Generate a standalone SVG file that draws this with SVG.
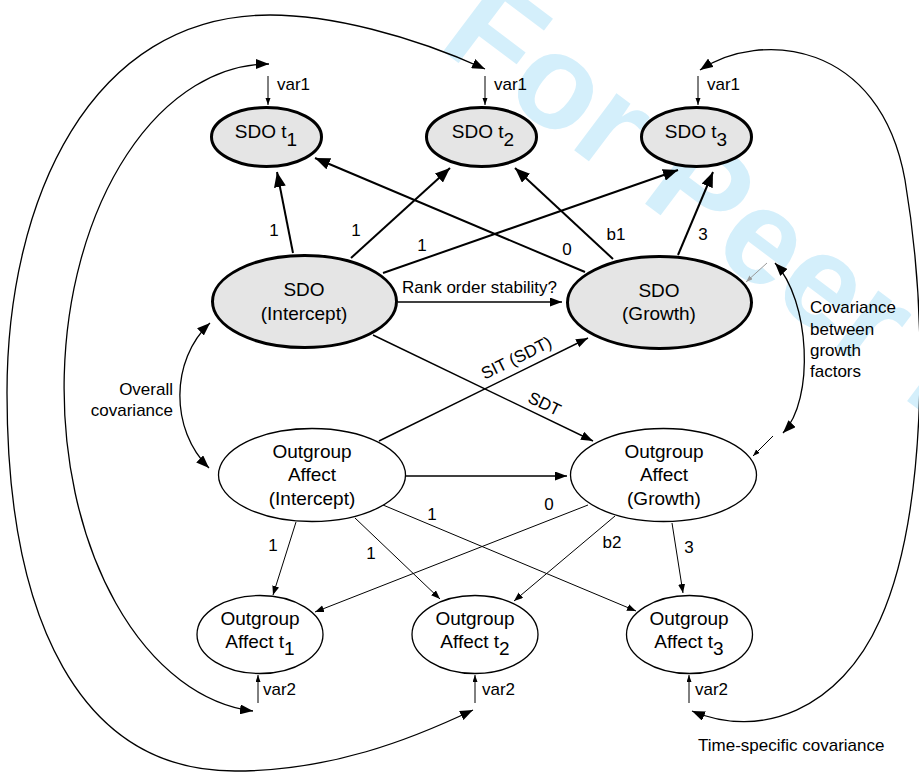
<svg xmlns="http://www.w3.org/2000/svg" width="919" height="776" viewBox="0 0 919 776">
<style>
text{font-family:"Liberation Sans",Arial,Helvetica,sans-serif;fill:#000}
.nt{font-size:19px;text-anchor:middle}
.lb{font-size:17px}
.lc{font-size:17px;text-anchor:middle}
.gray{fill:#e5e5e5;stroke:#000;stroke-width:3}
.white{fill:#fff;stroke:#000;stroke-width:1.3}
.thick{stroke:#000;stroke-width:2;fill:none;marker-end:url(#ah)}
.med{stroke:#000;stroke-width:1.4;fill:none;marker-end:url(#am)}
.thin{stroke:#000;stroke-width:1;fill:none;marker-end:url(#as)}
.var{stroke:#000;stroke-width:1;fill:none;marker-end:url(#av)}
.cov{stroke:#000;stroke-width:1.3;fill:none;marker-start:url(#ac);marker-end:url(#ac)}
.wm{font-family:"Liberation Sans",Arial,sans-serif;font-size:134px;font-weight:bold;fill:#d4effb}
</style>
<defs>
<marker id="ah" markerUnits="userSpaceOnUse" markerWidth="16" markerHeight="12" refX="15" refY="6" orient="auto"><path d="M0,0 L15,6 L0,12 z" fill="#000"/></marker>
<marker id="am" markerUnits="userSpaceOnUse" markerWidth="13" markerHeight="10" refX="12" refY="4.5" orient="auto"><path d="M0,0 L12,4.5 L0,9 z" fill="#000"/></marker>
<marker id="as" markerUnits="userSpaceOnUse" markerWidth="10" markerHeight="8" refX="9" refY="3.5" orient="auto"><path d="M0,0 L9,3.5 L0,7 z" fill="#000"/></marker>
<marker id="av" markerUnits="userSpaceOnUse" markerWidth="8" markerHeight="6" refX="7" refY="2.5" orient="auto"><path d="M0,0 L7,2.5 L0,5 z" fill="#000"/></marker>
<marker id="ag" markerUnits="userSpaceOnUse" markerWidth="8" markerHeight="6" refX="7" refY="2.5" orient="auto"><path d="M0,0 L7,2.5 L0,5 z" fill="#999"/></marker>
<marker id="ac" markerUnits="userSpaceOnUse" markerWidth="14" markerHeight="10" refX="13" refY="5" orient="auto-start-reverse"><path d="M0,0 L13,5 L0,10 z" fill="#000"/></marker>
</defs>

<text class="wm" transform="translate(436,46) rotate(37)">For Peer Review</text>

<g id="connectors">
<line class="thick" x1="293" y1="253" x2="277" y2="172"/>
<line class="thick" x1="351" y1="258" x2="450" y2="168"/>
<line class="thick" x1="383" y1="273" x2="678" y2="170"/>
<line class="thick" x1="585" y1="272" x2="315" y2="158"/>
<line class="thick" x1="613" y1="259" x2="515" y2="168"/>
<line class="thick" x1="678" y1="255" x2="713" y2="172"/>
<line class="med" x1="398" y1="302" x2="562" y2="302"/>
<line class="med" x1="379" y1="441" x2="588" y2="338"/>
<line class="med" x1="373" y1="335" x2="593" y2="441"/>
<line class="med" x1="406" y1="476" x2="567" y2="476"/>
<line class="thin" x1="296" y1="522" x2="273" y2="595"/>
<line class="thin" x1="355" y1="518" x2="440" y2="599"/>
<line class="thin" x1="383" y1="505" x2="636" y2="611"/>
<line class="thin" x1="588" y1="505" x2="315" y2="612"/>
<line class="thin" x1="615" y1="516" x2="514" y2="601"/>
<line class="thin" x1="672" y1="523" x2="683" y2="593"/>
<line class="var" x1="268" y1="76" x2="268" y2="105"/>
<line class="var" x1="485" y1="76" x2="485" y2="105"/>
<line class="var" x1="698" y1="76" x2="698" y2="105"/>
<line class="var" x1="258" y1="703" x2="258" y2="675"/>
<line class="var" x1="475" y1="703" x2="475" y2="675"/>
<line class="var" x1="689" y1="703" x2="689" y2="675"/>
<line x1="767" y1="263" x2="746" y2="282" stroke="#999" stroke-width="1" marker-end="url(#ag)"/>
<line class="var" x1="773" y1="436" x2="753" y2="456"/>
<path class="cov" d="M 210,323 C 170,360 170,430 209,468"/>
<path class="cov" d="M 775,263 C 810,300 815,400 783,433"/>
<path class="cov" d="M 269,64 A 205,324 0 0 0 253,711"/>
<path class="cov" d="M 485,69 C 410,35 330,15 270,15 C 90,15 7,200 7,393 C 7,620 80,771 235,771 C 330,771 410,740 473,710"/>
<path class="cov" d="M 700,70 C 760,30 880,40 905,180 C 930,330 925,520 880,620 C 840,710 760,740 692,711"/>
</g>

<g id="labels">
<text class="lc" x="274" y="236">1</text>
<text class="lc" x="356" y="236">1</text>
<text class="lc" x="422" y="251">1</text>
<text class="lc" x="567" y="255">0</text>
<text class="lc" x="616" y="240">b1</text>
<text class="lc" x="703" y="240">3</text>
<text class="lb" x="402" y="293">Rank order stability?</text>
<text class="lc" transform="translate(519,363) rotate(-26.2)">SIT (SDT)</text>
<text class="lc" transform="translate(542,409) rotate(25.7)">SDT</text>
<text class="lc" x="273" y="551">1</text>
<text class="lc" x="371" y="559">1</text>
<text class="lc" x="432" y="520">1</text>
<text class="lc" x="549" y="510">0</text>
<text class="lc" x="612" y="548">b2</text>
<text class="lc" x="689" y="553">3</text>
<text class="lb" x="173" y="395" text-anchor="end">Overall</text>
<text class="lb" x="173" y="416" text-anchor="end">covariance</text>
<text class="lb" x="810" y="313">Covariance</text>
<text class="lb" x="810" y="335">between</text>
<text class="lb" x="810" y="356">growth</text>
<text class="lb" x="810" y="377">factors</text>
<text class="lb" x="698" y="751">Time-specific covariance</text>
<text class="lb" x="277" y="90">var1</text>
<text class="lb" x="494" y="90">var1</text>
<text class="lb" x="707" y="90">var1</text>
<text class="lb" x="263" y="695">var2</text>
<text class="lb" x="482" y="695">var2</text>
<text class="lb" x="695" y="695">var2</text>
</g>

<g id="sdo_t1"><ellipse class="gray" cx="266.5" cy="137" rx="55" ry="29.5"/><text class="nt" x="266" y="138">SDO t<tspan dy="8">1</tspan></text></g>
<g id="sdo_t2"><ellipse class="gray" cx="481.5" cy="137" rx="55" ry="29.5"/><text class="nt" x="483" y="138">SDO t<tspan dy="8">2</tspan></text></g>
<g id="sdo_t3"><ellipse class="gray" cx="696.5" cy="137" rx="55" ry="29.5"/><text class="nt" x="696" y="138">SDO t<tspan dy="8">3</tspan></text></g>
<g id="sdo_intercept"><ellipse class="gray" cx="304.5" cy="301.5" rx="92" ry="46"/><text class="nt" x="304" y="296">SDO</text><text class="nt" x="304" y="320">(Intercept)</text></g>
<g id="sdo_growth"><ellipse class="gray" cx="659.5" cy="302.5" rx="92" ry="46"/><text class="nt" x="659" y="297">SDO</text><text class="nt" x="659" y="320">(Growth)</text></g>
<g id="oa_intercept"><ellipse class="white" cx="312" cy="475" rx="93.5" ry="46.5"/><text class="nt" x="312" y="458">Outgroup</text><text class="nt" x="312" y="481">Affect</text><text class="nt" x="312" y="505">(Intercept)</text></g>
<g id="oa_growth"><ellipse class="white" cx="663.5" cy="475" rx="93" ry="46.5"/><text class="nt" x="664" y="458">Outgroup</text><text class="nt" x="664" y="481">Affect</text><text class="nt" x="664" y="505">(Growth)</text></g>
<g id="oa_t1"><ellipse class="white" cx="260" cy="634.5" rx="63" ry="39"/><text class="nt" x="260" y="625">Outgroup</text><text class="nt" x="260" y="648">Affect t<tspan dy="7">1</tspan></text></g>
<g id="oa_t2"><ellipse class="white" cx="475" cy="634.5" rx="63" ry="39"/><text class="nt" x="475" y="625">Outgroup</text><text class="nt" x="475" y="648">Affect t<tspan dy="7">2</tspan></text></g>
<g id="oa_t3"><ellipse class="white" cx="689.5" cy="634.5" rx="63" ry="39"/><text class="nt" x="689" y="625">Outgroup</text><text class="nt" x="689" y="648">Affect t<tspan dy="7">3</tspan></text></g>
</svg>
